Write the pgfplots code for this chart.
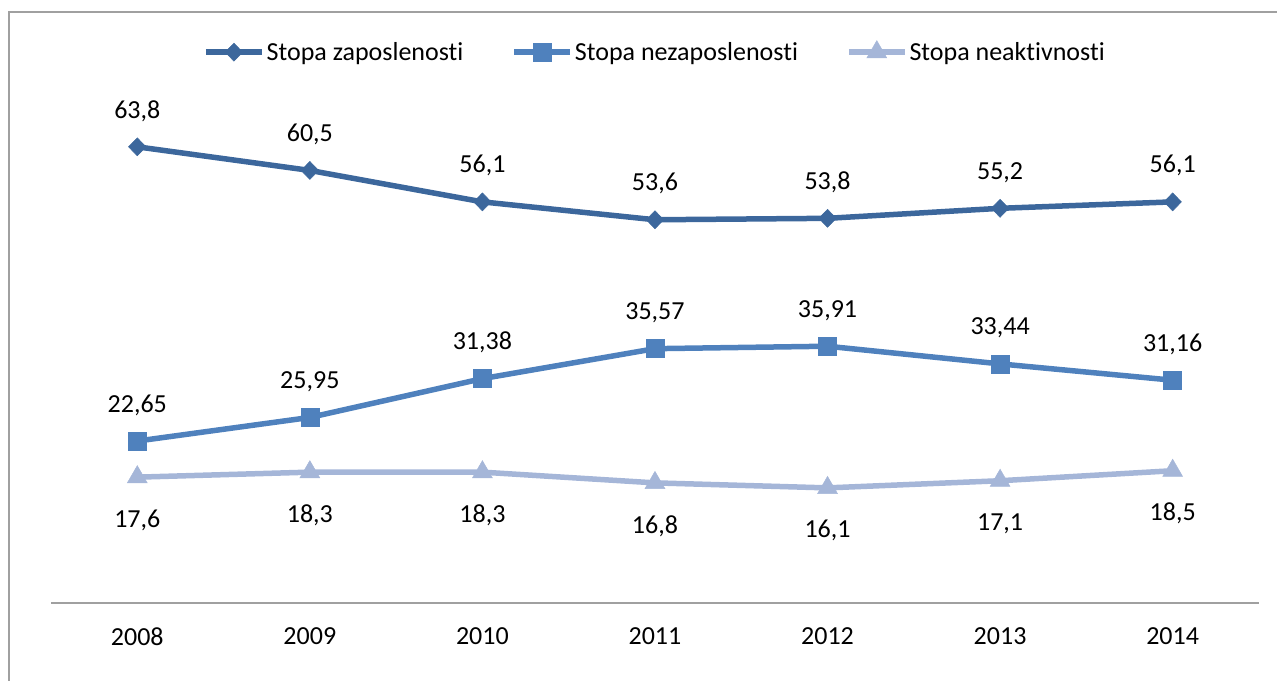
\documentclass[border=0pt]{standalone}
\usepackage{pgfplots}
\pgfplotsset{compat=1.18}
\usepackage{fontspec}
\setmainfont[Ligatures={NoCommon}]{Carlito}
\definecolor{cA}{HTML}{3C679C}
\definecolor{cB}{HTML}{4F81BD}
\definecolor{cC}{HTML}{A5B6D8}
\definecolor{axgray}{HTML}{A0A0A0}
\newcommand{\cf}{\fontsize{26}{31}\selectfont}
\begin{document}
\begin{tikzpicture}[x=1pt,y=1pt]
\useasboundingbox (0,0) rectangle (1277,680);
\draw[color=axgray, line width=2pt] (9,-20) -- (9,668) -- (1300,668);
\begin{axis}[
  at={(51pt,77pt)}, anchor=south west,
  scale only axis, width=1208pt, height=572pt,
  xmin=-0.5, xmax=6.5, ymin=0, ymax=80,
  axis y line=none,
  axis x line*=bottom,
  x axis line style={color=axgray, line width=2pt, -},
  xtick={0,...,6},
  xticklabels={2008,2009,2010,2011,2012,2013,2014},
  major tick length=0pt,
  xticklabel style={font=\cf, text=black, anchor=north, yshift=-21pt},
  /pgf/number format/.cd, use comma, 1000 sep={}, assume math mode=true,
  /pgfplots/.cd,
  clip=false,
  nodes near coords={\pgfmathprintnumber[fixed,precision=2]{\pgfplotspointmeta}},
  every node near coord/.append style={font=\cf, text=black, anchor=center},
  legend style={at={(0.5,0.963)}, anchor=center, draw=none, fill=none,
    font=\cf, legend columns=-1,
    /tikz/every even column/.append style={column sep=46pt},
    nodes={inner sep=2pt}},
  legend image code/.code={\draw[mark repeat=2,mark phase=2,#1] plot coordinates {(0pt,0pt) (28pt,0pt) (56pt,0pt)};},
]
\addplot[color=cA, line width=5.5pt, mark=diamond*, mark size=9pt, mark options={line width=0.5pt, fill=cA, xscale=1.3},
  every node near coord/.append style={yshift=36pt}]
  coordinates {(0,63.8) (1,60.5) (2,56.1) (3,53.6) (4,53.8) (5,55.2) (6,56.1)};
\addlegendentry{Stopa zaposlenosti}
\addplot[color=cB, line width=5.5pt, mark=square*, mark size=9pt, mark options={line width=0.5pt, fill=cB},
  every node near coord/.append style={yshift=36pt}]
  coordinates {(0,22.65) (1,25.95) (2,31.38) (3,35.57) (4,35.91) (5,33.44) (6,31.16)};
\addlegendentry{Stopa nezaposlenosti}
\addplot[color=cC, line width=5.5pt, mark=triangle*, mark size=11.5pt, mark options={line width=0.5pt, fill=cC},
  every node near coord/.append style={yshift=-43pt}]
  coordinates {(0,17.6) (1,18.3) (2,18.3) (3,16.8) (4,16.1) (5,17.1) (6,18.5)};
\addlegendentry{Stopa neaktivnosti}
\end{axis}
\end{tikzpicture}
\end{document}
